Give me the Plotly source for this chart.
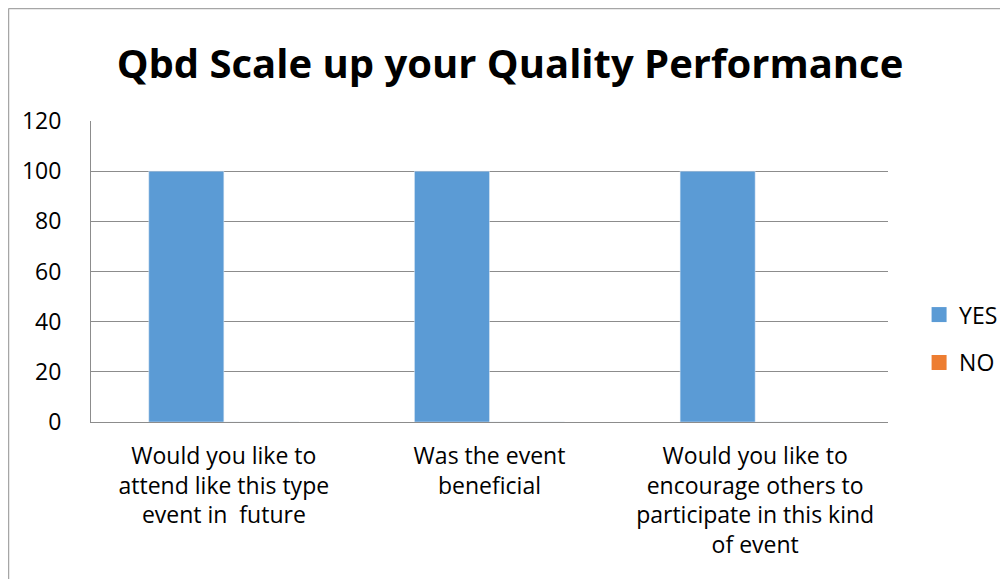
import plotly.graph_objects as go

categories = [
    "Would you like to<br>attend like this type<br>event in  future",
    "Was the event<br>beneficial",
    "Would you like to<br>encourage others to<br>participate in this kind<br>of event",
]
yes_values = [100, 100, 100]
no_values = [0, 0, 0]
y_ticks = [0, 20, 40, 60, 80, 100, 120]
series_names = ["YES", "NO"]
series_colors = ["#5B9BD5", "#ED7D31"]

FONT = "Open Sans"

fig = go.Figure()
for name, vals, col in zip(series_names, [yes_values, no_values], series_colors):
    fig.add_trace(go.Bar(name=name, x=categories, y=vals, marker_color=col,
                         showlegend=False, legendgroup=name))
# legend proxies (larger square swatches)
for name, col in zip(series_names, series_colors):
    fig.add_trace(go.Scatter(name=name, x=[None], y=[None], mode="markers",
                             marker=dict(symbol="square", size=15, color=col),
                             legendgroup=name, showlegend=True, hoverinfo="skip"))

# page body has an 8px default margin; compensate
OFF = 8
W, H = 1008, 579
L = 91 - OFF
T = 121 - OFF
R = W - (888 - OFF)
B = H - (422 - OFF)
pw = W - L - R
ph = H - T - B
bx = (8.5 - OFF - L) / pw
by = (H - B - (8.5 - OFF)) / ph

fig.update_layout(
    width=W, height=H,
    margin=dict(l=L, r=R, t=T, b=B),
    paper_bgcolor="white", plot_bgcolor="white",
    barmode="group", bargap=0.435, bargroupgap=0,
    title=dict(text="<b>Qbd Scale up your Quality Performance</b>",
               x=(510 - OFF) / W, xanchor="center", y=1 - (64 - OFF) / H, yanchor="middle",
               font=dict(family=FONT, size=40, color="black")),
    font=dict(family=FONT, size=23, color="black"),
    legend=dict(x=1.039, xanchor="left", y=0.277, yanchor="middle",
                font=dict(size=23), tracegroupgap=15, traceorder="grouped",
                itemwidth=30, itemsizing="trace", bgcolor="rgba(0,0,0,0)"),
    showlegend=True,
    shapes=[
        dict(type="line", xref="paper", yref="paper", x0=bx, x1=bx, y0=-1, y1=by,
             line=dict(color="#A6A6A6", width=1.5)),
        dict(type="line", xref="paper", yref="paper", x0=bx, x1=2, y0=by, y1=by,
             line=dict(color="#A6A6A6", width=1.5)),
    ],
)
fig.update_yaxes(range=[0, 120], tickvals=y_ticks, showgrid=True, gridcolor="#8C8C8C",
                 gridwidth=1, showline=True, linecolor="#8C8C8C", zeroline=False,
                 ticks="", ticklabelstandoff=24, tickfont=dict(size=23))
fig.update_xaxes(showline=True, linecolor="#8C8C8C", ticks="", ticklabelstandoff=13,
                 tickfont=dict(size=23), tickangle=0)

fig.write_html("out.html")
